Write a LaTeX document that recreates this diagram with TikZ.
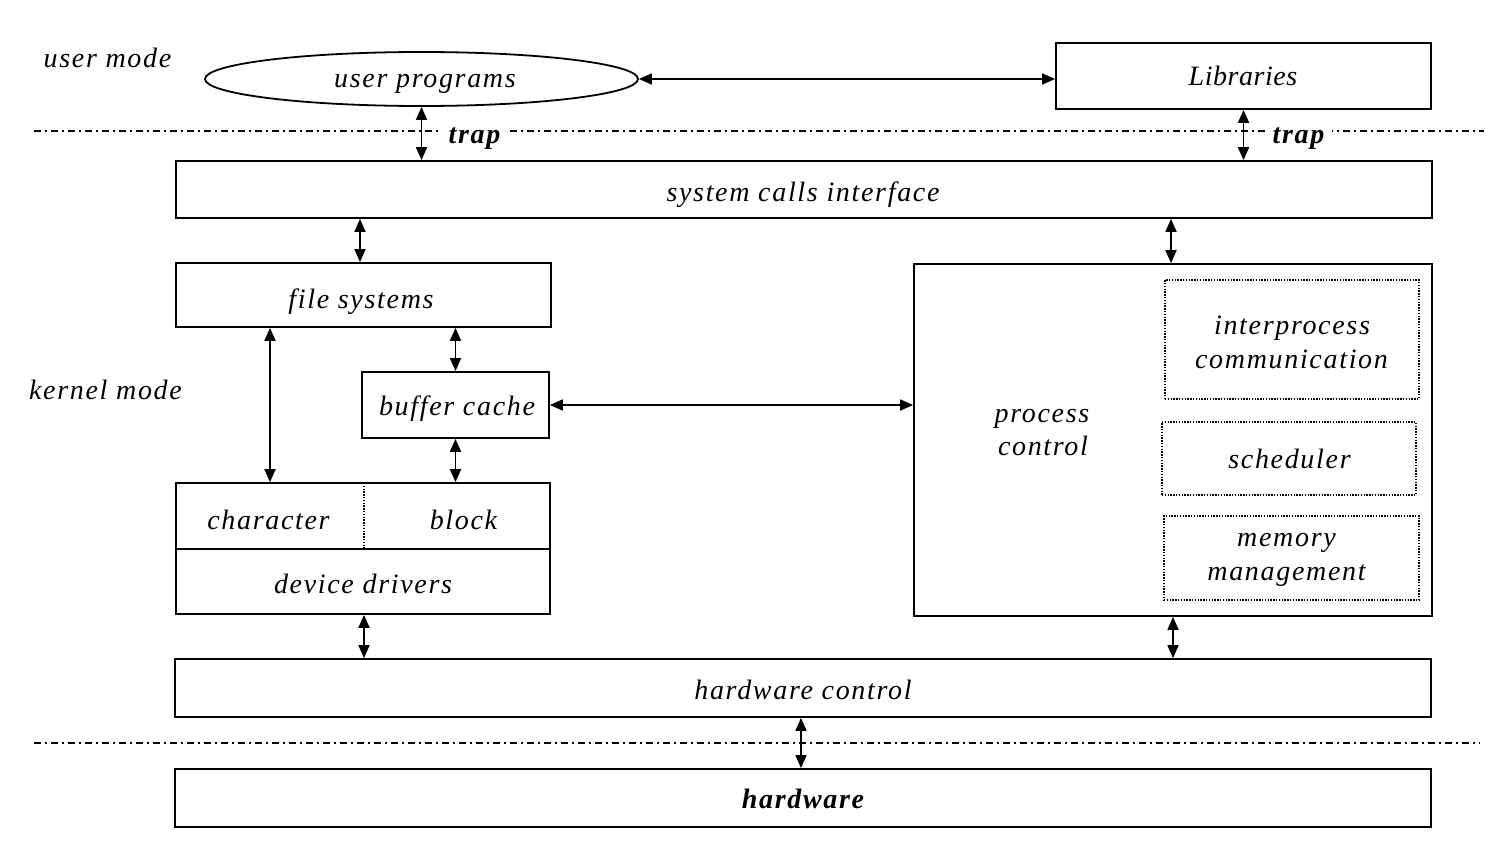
\documentclass[tikz,border=0pt]{standalone}
\usepackage{fontspec}
\setmainfont{Liberation Serif}
\newfontfamily\labfont[LetterSpace=6]{Liberation Serif}
\newfontfamily\libfont[LetterSpace=2]{Liberation Serif}
\usetikzlibrary{arrows.meta,shapes.geometric}
\begin{document}
\begin{tikzpicture}[x=1pt,y=-1pt,
  lab/.style={font=\labfont\itshape\fontsize{28}{33}\selectfont, inner sep=0pt, anchor=base},
  box/.style={draw, line width=1.8pt, rectangle, inner sep=0pt},
  dbox/.style={draw, line width=1.3pt, dash pattern=on 1.4pt off 1.4pt, rectangle, inner sep=0pt},
  arr/.style={{Triangle[length=13pt,width=11pt]}-{Triangle[length=13pt,width=11pt]}, line width=1.8pt},
  sepline/.style={line width=1.1pt, dash pattern=on 7pt off 4pt on 2pt off 4pt},
  trapnode/.style={font=\labfont\itshape\bfseries\fontsize{28}{33}\selectfont, fill=white, inner xsep=8pt, inner ysep=5pt, anchor=base}
]
\useasboundingbox (0,0) rectangle (1510,859);
% separators
\coordinate (s1a) at (34,131);
\coordinate (s1b) at (1484,131);
\coordinate (s2a) at (34,743);
\coordinate (s2b) at (1480,743);
\draw[sepline] (s1a) -- (s1b);
\draw[sepline] (s2a) -- (s2b);
\node[trapnode] (trapL) at (474.5,143) {trap};
\node[trapnode] (trapR) at (1298.5,143) {trap};

% side labels
\node[lab] (um) at (107.5,67) {user mode};
\node[lab] (km) at (105.5,399) {kernel mode};

% user level
\node[ellipse, draw, line width=1.8pt, minimum width=433pt, minimum height=54pt, inner sep=0pt] (up) at (421.5,79) {};
\node[lab] (upt) at (425,88) {user programs};
\node[box, minimum width=375pt, minimum height=66pt] (lib) at (1243.5,76) {};
\node[lab, font=\libfont\itshape\fontsize{28}{33}\selectfont] (libt) at (1243,85) {Libraries};

% kernel
\node[box, minimum width=1256pt, minimum height=57pt] (sys) at (804,189.5) {};
\node[lab] (syst) at (803,201.5) {system calls interface};
\node[box, minimum width=375pt, minimum height=64pt] (fs) at (363.5,295) {};
\node[lab] (fst) at (361,308.5) {file systems};
\node[box, minimum width=187pt, minimum height=66pt] (buf) at (455.5,405) {};
\node[lab] (buft) at (457,415) {buffer cache};
\node[box, minimum width=374pt, minimum height=131pt] (dev) at (363,548.5) {};
\node[lab] (chr) at (268.5,529) {character};
\node[lab] (blk) at (463.5,529) {block};
\node[lab] (ddr) at (363,593) {device drivers};
\coordinate (divL) at (176,549);
\coordinate (divR) at (550,549);
\coordinate (dotT) at (364,483);
\coordinate (dotB) at (364,549);
\draw[line width=1.8pt] (divL) -- (divR);
\draw[line width=1.3pt, dash pattern=on 1.4pt off 1.4pt] (dotT) -- (dotB);

\node[box, minimum width=518pt, minimum height=352pt] (pc) at (1173,440) {};
\node[lab] (pct1) at (1042,422) {process};
\node[lab] (pct2) at (1043,455.5) {control};
\node[dbox, minimum width=254pt, minimum height=119pt] (ipc) at (1292,339.5) {};
\node[lab] (ipct1) at (1292,334.5) {interprocess};
\node[lab] (ipct2) at (1291.5,368.5) {communication};
\node[dbox, minimum width=254pt, minimum height=73pt] (sch) at (1289,458.5) {};
\node[lab] (scht) at (1289.5,468) {scheduler};
\node[dbox, minimum width=255pt, minimum height=84pt] (mem) at (1291.5,558) {};
\node[lab] (memt1) at (1286.5,546) {memory};
\node[lab] (memt2) at (1286.5,580) {management};

\node[box, minimum width=1256pt, minimum height=58pt] (hwc) at (803,688) {};
\node[lab] (hwct) at (803,699) {hardware control};
\node[box, minimum width=1256pt, minimum height=58pt] (hw) at (803,798) {};
\node[lab, font=\labfont\itshape\bfseries\fontsize{28}{33}\selectfont] (hwt) at (803,808) {hardware};

% connectors
\draw[arr] (up.east) -- (up.east -| lib.west);
\draw[arr] (up.south) -- (up.south |- sys.north);
\draw[arr] (lib.south) -- (lib.south |- sys.north);
\draw[arr] ([xshift=-3.5pt]fs.north) -- ([xshift=-3.5pt]fs.north |- sys.south);
\draw[arr] ([xshift=-2pt]pc.north) -- ([xshift=-2pt]pc.north |- sys.south);
\draw[arr] (buf.north) -- (buf.north |- fs.south);
\draw[arr] (buf.south) -- (buf.south |- dev.north);
\draw[arr] ([xshift=1.5pt]fs.south -| chr.base) -- ([xshift=1.5pt]dev.north -| chr.base);
\draw[arr] (buf.east) -- (buf.east -| pc.west);
\draw[arr] ([xshift=1pt]dev.south) -- ([xshift=1pt]dev.south |- hwc.north);
\draw[arr] (pc.south) -- (pc.south |- hwc.north);
\draw[arr] ([xshift=-2pt]hwc.south) -- ([xshift=-2pt]hwc.south |- hw.north);
\end{tikzpicture}
\end{document}
